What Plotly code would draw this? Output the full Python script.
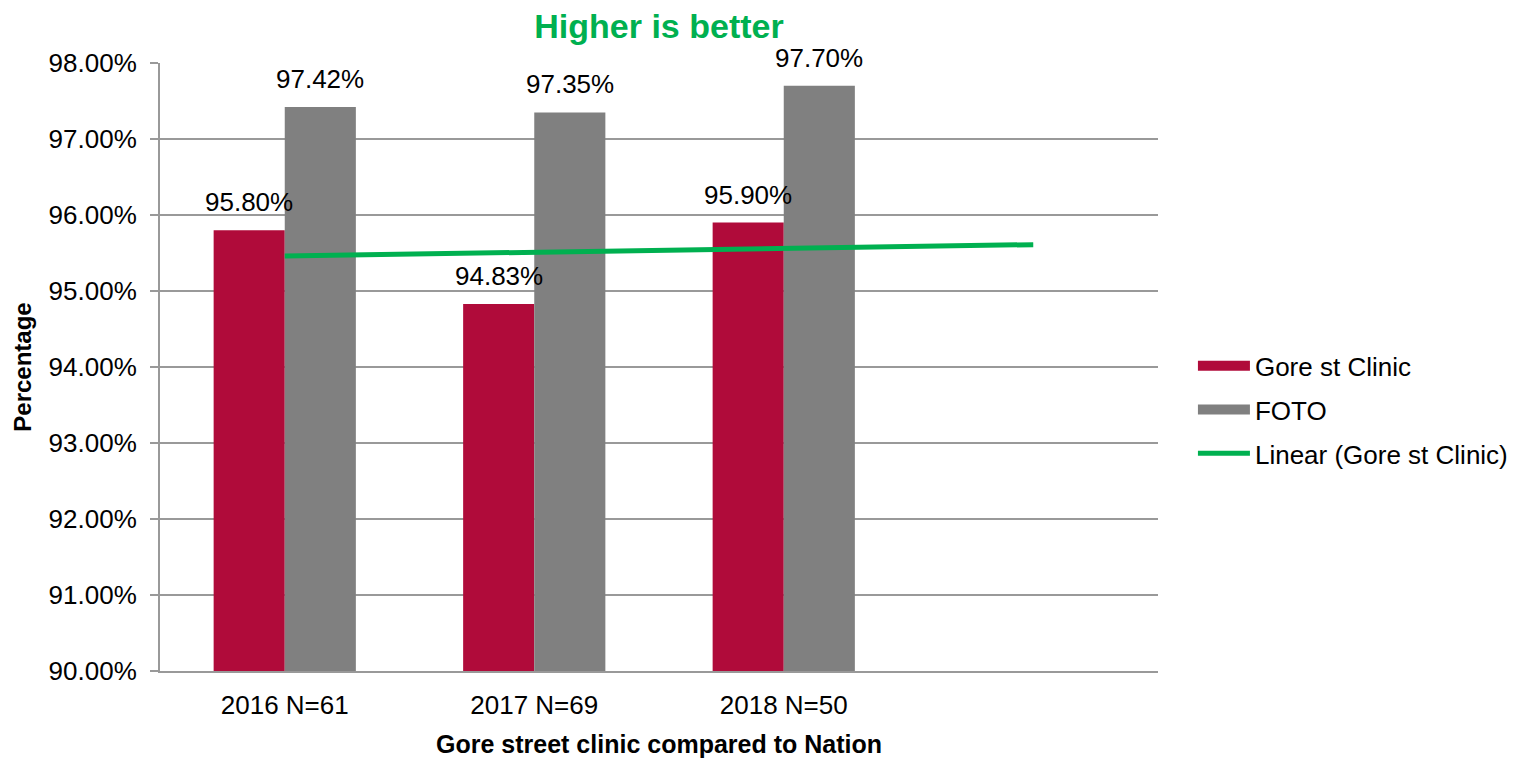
import numpy as np
import plotly.graph_objects as go

categories = ["2016 N=61", "2017 N=69", "2018 N=50"]
clinic = [95.80, 94.83, 95.90]
foto = [97.42, 97.35, 97.70]
clinic_labels = ["95.80%", "94.83%", "95.90%"]
foto_labels = ["97.42%", "97.35%", "97.70%"]

RED = "#B00B3A"
GRAY = "#808080"
GREEN = "#00B050"
FONT = "Liberation Sans, Arial, sans-serif"

xpos = list(range(1, len(categories) + 1))
bargap = 0.43
bw = (1 - bargap) / 2

# Linear trendline (Excel-style, forecast forward 1 period)
coef = np.polyfit(xpos, clinic, 1)
tx = [xpos[0], xpos[-1] + 1]
ty = [coef[0] * t + coef[1] for t in tx]

fig = go.Figure()
fig.add_trace(go.Bar(x=xpos, y=clinic, name="Gore st Clinic", marker_color=RED,
                     marker_line_width=0, showlegend=False))
fig.add_trace(go.Bar(x=xpos, y=foto, name="FOTO", marker_color=GRAY,
                     marker_line_width=0, showlegend=False))
fig.add_trace(go.Scatter(x=tx, y=ty, mode="lines", name="Linear (Gore st Clinic)",
                         line=dict(color=GREEN, width=5), showlegend=False))
# legend entries (wide rectangles like the original)
fig.add_trace(go.Scatter(x=[None], y=[None], mode="lines", name="Gore st Clinic",
                         line=dict(color=RED, width=17), legendgroup="a"))
fig.add_trace(go.Scatter(x=[None], y=[None], mode="lines", name="FOTO",
                         line=dict(color=GRAY, width=17), legendgroup="b"))
fig.add_trace(go.Scatter(x=[None], y=[None], mode="lines", name="Linear (Gore st Clinic)",
                         line=dict(color=GREEN, width=5), legendgroup="c"))

ann = []
for x, v, t in zip(xpos, clinic, clinic_labels):
    ann.append(dict(x=x - bw / 2, y=v, text=t, showarrow=False, yshift=28,
                    font=dict(size=26, color="black", family=FONT)))
for x, v, t in zip(xpos, foto, foto_labels):
    ann.append(dict(x=x + bw / 2, y=v, text=t, showarrow=False, yshift=28,
                    font=dict(size=26, color="black", family=FONT)))

fig.update_layout(
    width=1521, height=758,
    margin=dict(l=152, r=371, t=55, b=93),
    paper_bgcolor="white", plot_bgcolor="white",
    barmode="group", bargap=bargap, bargroupgap=0,
    font=dict(family=FONT, size=26, color="black"),
    title=dict(text="<b>Higher is better</b>", x=651 / 1521, xanchor="center",
               y=1 - 6 / 758, yanchor="top", pad=dict(t=0, b=0),
               font=dict(size=34, color=GREEN, family=FONT)),
    annotations=ann,
    legend=dict(x=1.035, xanchor="left", y=0.4295, yanchor="middle",
                font=dict(size=26, family=FONT), tracegroupgap=7,
                bgcolor="rgba(0,0,0,0)", itemwidth=52),
    showlegend=True,
)
fig.update_xaxes(range=[0.5, 4.5], tickvals=xpos, ticktext=categories,
                 showgrid=False, showline=True, linecolor="#999999", linewidth=2,
                 ticks="", zeroline=False, ticklabelstandoff=10,
                 title=dict(text="<b>Gore street clinic compared to Nation</b>",
                            font=dict(size=25, family=FONT), standoff=16),
                 tickfont=dict(size=26, family=FONT))
fig.update_yaxes(range=[90, 98], dtick=1, tickformat=".2f", ticksuffix="%",
                 showgrid=True, gridcolor="#999999", gridwidth=1.5,
                 showline=True, linecolor="#999999", linewidth=2,
                 ticks="outside", ticklen=8, tickcolor="#999999", tickwidth=1.5,
                 zeroline=False, ticklabelstandoff=8,
                 title=dict(text="<b>Percentage</b>", font=dict(size=24, family=FONT),
                            standoff=10),
                 tickfont=dict(size=26, family=FONT))

fig.write_html("out.html")
